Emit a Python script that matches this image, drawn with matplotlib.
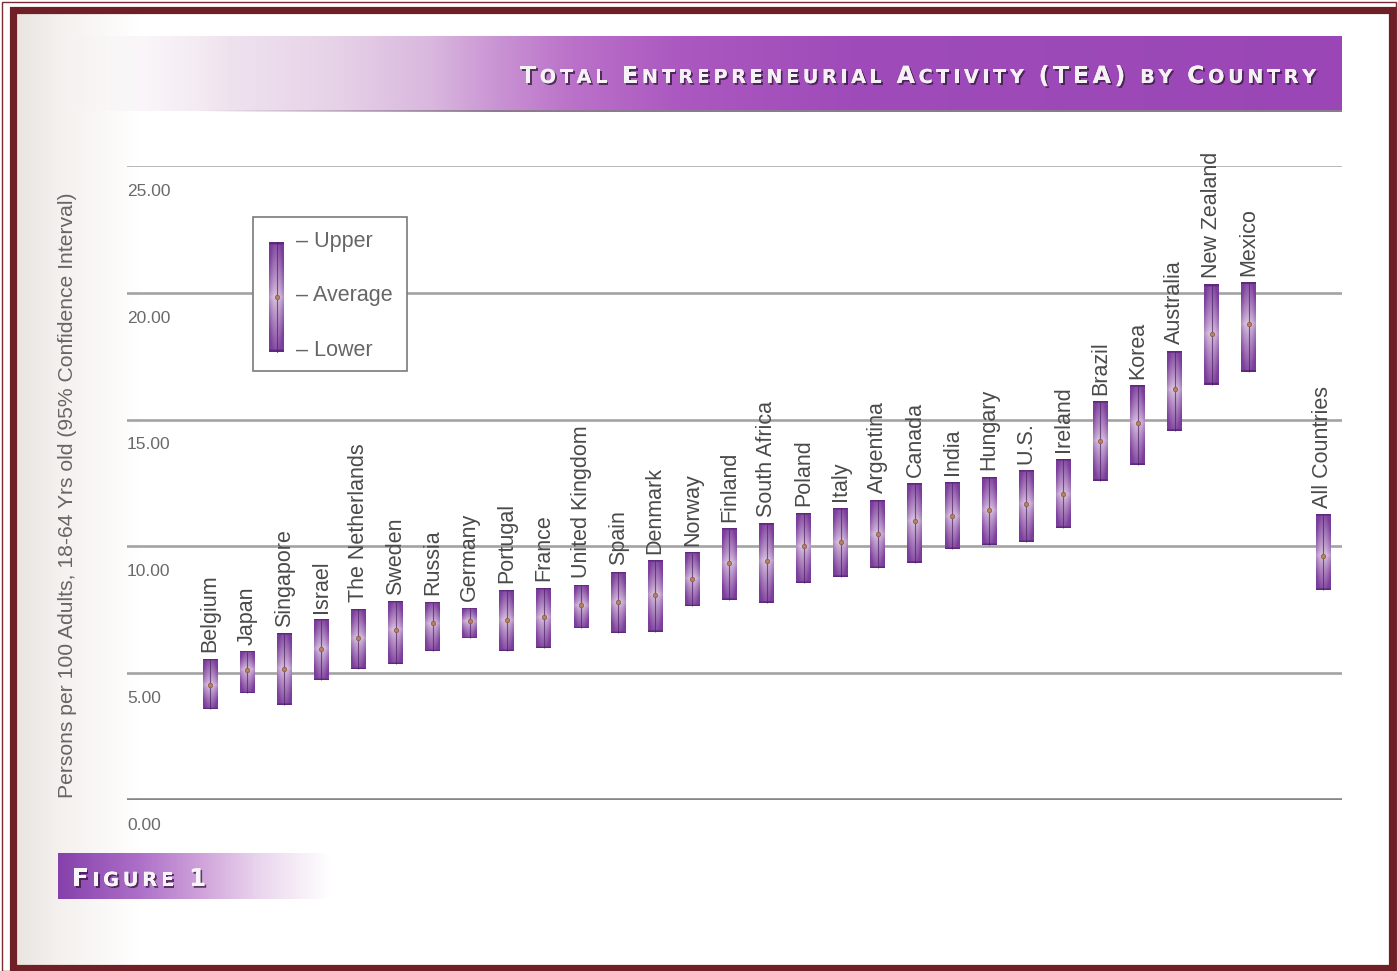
import matplotlib

matplotlib.use("Agg")
import matplotlib.pyplot as plt  # noqa: E402
import numpy as np  # noqa: E402
from matplotlib import colors as mcolors  # noqa: E402
from matplotlib import patheffects as pe  # noqa: E402
from matplotlib.patches import Rectangle  # noqa: E402

# data (persons per 100 adults, 95% CI)
COUNTRIES = ["Belgium", "Japan", "Singapore", "Israel", "The Netherlands", "Sweden",
             "Russia", "Germany", "Portugal", "France", "United Kingdom", "Spain",
             "Denmark", "Norway", "Finland", "South Africa", "Poland", "Italy",
             "Argentina", "Canada", "India", "Hungary", "U.S.", "Ireland", "Brazil",
             "Korea", "Australia", "New Zealand", "Mexico", "All Countries"]
LOWER = [3.59, 4.22, 3.75, 4.73, 5.17, 5.36, 5.88, 6.39, 5.88, 6.00, 6.79, 6.59,
         6.63, 7.65, 7.89, 7.77, 8.56, 8.80, 9.15, 9.35, 9.90, 10.06, 10.18, 10.73,
         12.58, 13.21, 14.56, 16.37, 16.88, 8.28]
AVERAGE = [4.54, 5.13, 5.17, 5.96, 6.39, 6.71, 6.98, 7.06, 7.10, 7.22, 7.69, 7.81,
           8.09, 8.72, 9.35, 9.43, 10.02, 10.18, 10.49, 11.01, 11.20, 11.44, 11.68,
           12.07, 14.16, 14.87, 16.21, 18.38, 18.78, 9.63]
UPPER = [5.56, 5.84, 6.55, 7.10, 7.53, 7.81, 7.81, 7.57, 8.28, 8.36, 8.48, 8.99,
         9.43, 9.74, 10.69, 10.89, 11.32, 11.52, 11.83, 12.47, 12.54, 12.74, 12.98,
         13.45, 15.70, 16.33, 17.71, 20.32, 20.39, 11.24]
POSITIONS = list(range(29)) + [30]  # gap before "All Countries"
YTICKS = [0, 5, 10, 15, 20, 25]
YTICK_LABELS = ["0.00", "5.00", "10.00", "15.00", "20.00", "25.00"]
LEGEND_LABELS = ["– Upper", "– Average", "– Lower"]
TITLE = "Total Entrepreneurial Activity (TEA) by Country"
FIG_LABEL = "Figure 1"
YLABEL = "Persons per 100 Adults, 18-64 Yrs old (95% Confidence Interval)"

W, H, DPI = 1398, 971, 100
PURPLE = np.array(mcolors.to_rgb("#7b3d9b"))
LIGHT = np.array(mcolors.to_rgb("#f4e9f3"))
CAP = np.array(mcolors.to_rgb("#5e2a7c"))
SANS = ["Liberation Sans", "DejaVu Sans"]


def bar_rgba(lo, avg, hi, n=90, m=11):
    """Hourglass-ish purple shading: light at the average, dark at the limits."""
    ys = np.linspace(hi, lo, n)
    t = np.where(ys >= avg, (ys - avg) / max(hi - avg, 1e-6),
                 (avg - ys) / max(avg - lo, 1e-6))
    xs = np.abs(np.linspace(-1, 1, m))
    shade = np.clip(0.18 + 0.72 * t[:, None] ** 0.8 + 0.3 * xs[None, :] ** 2, 0, 1)
    img = LIGHT + (PURPLE - LIGHT) * shade[..., None]
    img[:2] = CAP
    img[-2:] = CAP
    return img


def hgradient(stops, n=500, fade=None):
    """1-row RGBA strip; `fade` = (x_start, x_end) ramps alpha in from 0."""
    pos = [s[0] for s in stops]
    rgb = np.array([mcolors.to_rgb(s[1]) for s in stops])
    xs = np.linspace(pos[0], pos[-1], n)
    img = np.stack([np.interp(xs, pos, rgb[:, k]) for k in range(3)], axis=-1)
    alpha = np.ones(n) if fade is None else np.interp(xs, fade, [0, 1])
    return np.concatenate([img, alpha[:, None]], axis=-1)[None, :, :]


def small_caps(ax, text, x0, x1, baseline, big, small, renderer, **kw):
    """Fake small caps, spread so the string runs from x0 to x1 (pixels)."""
    arts, widths = [], []
    for ch in text:
        size = small if ch.islower() else big
        t = ax.text(0, baseline, ch.upper(), fontsize=size, ha="left", va="baseline", **kw)
        w = 0.32 * size * DPI / 72 if ch == " " else t.get_window_extent(renderer).width
        arts.append(t)
        widths.append(w)
    track = (x1 - x0 - sum(widths)) / max(len(arts) - 1, 1)
    x = x0
    for t, w in zip(arts, widths):
        t.set_x(x)
        x += w + track


fig = plt.figure(figsize=(W / DPI, H / DPI), dpi=DPI)
renderer = fig.canvas.get_renderer()

# background layer in pixel coordinates
deco = fig.add_axes([0, 0, 1, 1], zorder=0)
deco.set_xlim(0, W)
deco.set_ylim(H, 0)
deco.axis("off")
deco.imshow(hgradient([(14, "#e9e4e0"), (60, "#f4f1ee"), (140, "#ffffff")]),
            extent=(14, 140, 968, 12), aspect="auto")
deco.imshow(hgradient([(70, "#f6f0f5"), (200, "#f1e6f0"), (330, "#e7d3e8"),
                       (430, "#d9b8de"), (500, "#c992d3"), (570, "#bb72c9"),
                       (680, "#ab58c0"), (850, "#9f4cba"), (1342, "#9a46b6")],
                      fade=(70, 230)),
            extent=(70, 1342, 111, 36), aspect="auto")
deco.imshow(hgradient([(200, "#8c7a90"), (1342, "#8c7a90")], fade=(200, 500)),
            extent=(200, 1342, 112, 110), aspect="auto")
deco.imshow(hgradient([(58, "#8540aa"), (140, "#ad70c8"), (200, "#cfa2da"),
                       (260, "#ead6ee"), (330, "#ffffff")], fade=None),
            extent=(58, 330, 899, 853), aspect="auto")
shadow = [pe.withSimplePatchShadow(offset=(1.3, -1.3), shadow_rgbFace="#301838", alpha=0.75),
          pe.Normal()]
small_caps(deco, TITLE, 520, 1316, 83, 17, 13.8, renderer, color="#f5f1f5",
           fontweight="bold", family="DejaVu Sans", path_effects=shadow)
small_caps(deco, FIG_LABEL, 72, 206, 886, 17.5, 14, renderer, color="#f8f4f8",
           fontweight="bold", family="DejaVu Sans", path_effects=shadow)

# chart
left_px, right_px, top_px, bottom_px = 127, 1342, 166, 800
step = 37.1
ax = fig.add_axes([left_px / W, 1 - bottom_px / H, (right_px - left_px) / W,
                   (bottom_px - top_px) / H], zorder=1)
ax.patch.set_alpha(0)
for s in ax.spines.values():
    s.set_visible(False)
ax.set_xticks([])
ax.set_yticks([])

for v in YTICKS:
    lw, col = (2.6, "#858585") if v == 0 else ((1.2, "#ababab") if v == 25 else (1.9, "#a3a3a3"))
    ax.axhline(v, color=col, lw=lw, zorder=1)

half = 0.2
for pos, name, lo, avg, hi in zip(POSITIONS, COUNTRIES, LOWER, AVERAGE, UPPER):
    ax.imshow(bar_rgba(lo, avg, hi), extent=(pos - half, pos + half, lo, hi),
              aspect="auto", interpolation="bilinear", zorder=3)
    ax.vlines(pos, lo, hi, color="#4e2266", lw=0.8, alpha=0.7, zorder=4)
    ax.plot(pos, avg, "o", ms=3.2, color="#b5805e", mec="#8a5a48", mew=0.5, zorder=5)
    ax.annotate(name, (pos, hi), xytext=(0, 5), textcoords="offset points",
                rotation=90, ha="center", va="bottom", fontsize=15.5,
                color="#4a4a4a", family=SANS, zorder=6)

xmin = -(210 - left_px) / step
ax.set_xlim(xmin, (right_px - 210) / step)
ax.set_ylim(0, 25)
for v, lab in zip(YTICKS, YTICK_LABELS):
    ax.text(xmin, v - 1.0, lab, ha="left", va="center", fontsize=12.5,
            color="#6a6a6a", family=SANS, clip_on=False)

fig.text(68 / W, 1 - 495 / H, YLABEL, rotation=90, ha="center", va="center",
         fontsize=15.2, color="#666666", family=SANS)

# overlay: legend box and frame
top = fig.add_axes([0, 0, 1, 1], zorder=2)
top.set_xlim(0, W)
top.set_ylim(H, 0)
top.axis("off")
top.add_patch(Rectangle((253, 217), 154, 154, facecolor="white", edgecolor="#7a7a7a", lw=1.2))
top.imshow(bar_rgba(0.0, 0.5, 1.0), extent=(269, 284, 352, 242), aspect="auto",
           interpolation="bilinear", zorder=3)
top.plot([276.5, 276.5], [242, 352], color="#4e2266", lw=0.8, alpha=0.7, zorder=4)
top.plot(276.5, 297, "o", ms=3.2, color="#b5805e", mec="#8a5a48", mew=0.5, zorder=5)
for lab, y in zip(LEGEND_LABELS, [241, 296, 351]):
    top.text(296, y, lab, ha="left", va="center", fontsize=15.5, color="#666666", family=SANS)

top.add_patch(Rectangle((2, 2), W - 4, H - 2, fill=False, edgecolor="#7a2a30", lw=1.0))
top.add_patch(Rectangle((12.5, 10.5), 1379, 957.5, fill=False, edgecolor="#6f2026", lw=5.2))

fig.savefig("out.png", dpi=DPI)
